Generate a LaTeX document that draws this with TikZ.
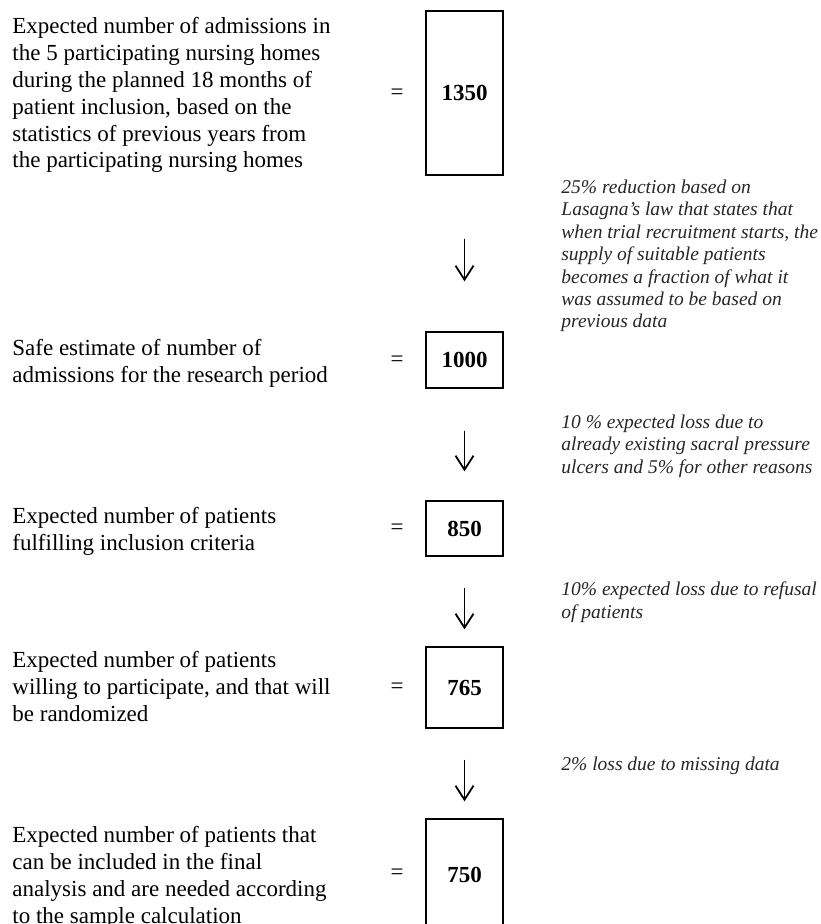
\documentclass[tikz,border=0pt]{standalone}
\usepackage{fontspec}
\setmainfont{Liberation Serif}
\usetikzlibrary{arrows.meta}
\begin{document}
\begin{tikzpicture}[x=0.5pt,y=-0.5pt,
  desc/.style={anchor=base west,align=left,inner sep=0pt,font=\fontsize{11.5}{13.4}\selectfont},
  note/.style={anchor=base west,align=left,inner sep=0pt,text=black!85,font=\fontsize{9.75}{11.2}\selectfont\itshape},
  numbox/.style={draw,line width=0.65pt,minimum width=38.5pt,inner sep=0pt,font=\fontsize{11.5}{13.4}\selectfont\bfseries},
  eqsign/.style={inner sep=0pt,font=\fontsize{11.5}{13.4}\selectfont},
  flow/.style={-{Straight Barb[length=7pt,width=9pt]},line width=0.9pt}]
  \useasboundingbox (0,0) rectangle (820,924);

  % left column (anchored at the last baseline)
  \node[desc] (d1) at (12,168) {Expected number of admissions in\\the 5 participating nursing homes\\during the planned 18 months of\\patient inclusion, based on the\\statistics of previous years from\\the participating nursing homes};
  \node[desc] (d2) at (12,382) {Safe estimate of number of\\admissions for the research period};
  \node[desc] (d3) at (12,550) {Expected number of patients\\fulfilling inclusion criteria};
  \node[desc] (d4) at (12,721) {Expected number of patients\\willing to participate, and that will\\be randomized};
  \node[desc] (d5) at (12,923) {Expected number of patients that\\can be included in the final\\analysis and are needed according\\to the sample calculation};

  \node[eqsign] (e1) at (397,94) {=};
  \node[eqsign] (e2) at (397,361) {=};
  \node[eqsign] (e3) at (397,529) {=};
  \node[eqsign] (e4) at (397,688) {=};
  \node[eqsign] (e5) at (397,874) {=};

  % boxes
  \node[numbox,minimum height=82pt] (tot) at (464.5,93) {1350};
  \node[numbox,minimum height=28pt] (safe) at (464.5,360) {1000};
  \node[numbox,minimum height=27.5pt] (incl) at (464.5,528.5) {850};
  \node[numbox,minimum height=40.5pt] (rand) at (464.5,687.5) {765};
  \node[numbox,minimum height=56pt] (final) at (464.5,875) {750};

  \draw[flow,shorten <=31.5pt,shorten >=25pt] (tot) -- (safe);
  \draw[flow,shorten <=21pt,shorten >=14.5pt] (safe) -- (incl);
  \draw[flow,shorten <=15.5pt,shorten >=8.5pt] (incl) -- (rand);
  \draw[flow,shorten <=15.5pt,shorten >=8.5pt] (rand) -- (final);

  % right column (anchored at the last baseline)
  \node[note] (n1) at (561,328) {25\% reduction based on\\Lasagna’s law that states that\\when trial recruitment starts, the\\supply of suitable patients\\becomes a fraction of what it\\was assumed to be based on\\previous data};
  \node[note] (n2) at (561,473) {10 \% expected loss due to\\already existing sacral pressure\\ulcers and 5\% for other reasons};
  \node[note] (n3) at (561,618) {10\% expected loss due to refusal\\of patients};
  \node[note] (n4) at (561,770) {2\% loss due to missing data};
\end{tikzpicture}
\end{document}
